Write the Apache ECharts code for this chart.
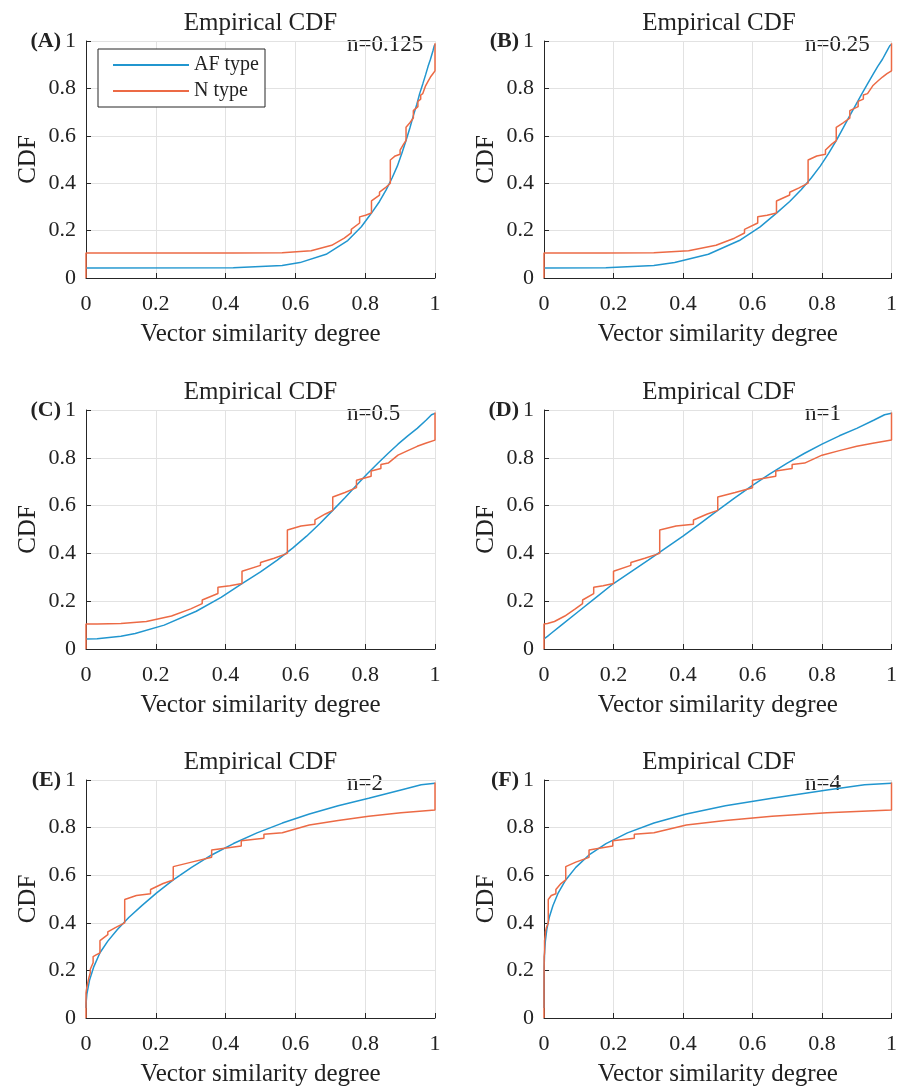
<!DOCTYPE html>
<html lang="en">
<head>
<meta charset="utf-8" />
<script src="https://cdn.jsdelivr.net/npm/echarts@6/dist/echarts.min.js"></script>
<style>
  body { margin: 0; background: #ffffff; }
  #main { width: 900px; height: 1088px; }
</style>
</head>
<body>
<div id="main"></div>
<script>
// panel labels
var panelLetters = ['(A)', '(B)', '(C)', '(D)', '(E)', '(F)'];
var nLabels = ['n=0.125', 'n=0.25', 'n=0.5', 'n=1', 'n=2', 'n=4'];
var seriesNames = ['AF type', 'N type'];

// AF type: CDF levels (shared) and x positions read in each panel
var afCdf = [0.042, 0.043, 0.053, 0.065, 0.100, 0.158, 0.216, 0.274, 0.323, 0.372, 0.422, 0.472, 0.526,
             0.580, 0.633, 0.685, 0.733, 0.778, 0.819, 0.857, 0.892, 0.923, 0.958, 0.980, 0.986];
var afX_A = [0, 0.422, 0.562, 0.613, 0.688, 0.750, 0.789, 0.818, 0.841, 0.860, 0.877, 0.892, 0.905,
             0.917, 0.928, 0.938, 0.948, 0.956, 0.965, 0.973, 0.980, 0.987, 0.994, 0.998, 1];
var afX_B = [0, 0.178, 0.316, 0.376, 0.473, 0.562, 0.622, 0.669, 0.707, 0.740, 0.769, 0.795, 0.819,
             0.841, 0.861, 0.880, 0.898, 0.915, 0.931, 0.946, 0.960, 0.974, 0.987, 0.995, 1];
var afX_C = [0, 0.032, 0.100, 0.141, 0.224, 0.316, 0.387, 0.447, 0.500, 0.548, 0.592, 0.632, 0.671,
             0.707, 0.742, 0.775, 0.806, 0.837, 0.866, 0.894, 0.922, 0.949, 0.975, 0.990, 1];
var afX_D = [0, 0.001, 0.01, 0.02, 0.05, 0.1, 0.15, 0.2, 0.25, 0.3, 0.35, 0.4, 0.45,
             0.5, 0.55, 0.6, 0.65, 0.7, 0.75, 0.8, 0.85, 0.9, 0.95, 0.98, 1];
var afX_E = [0, 0, 0.0001, 0.0004, 0.0025, 0.010, 0.0225, 0.040, 0.0625, 0.090, 0.1225, 0.160, 0.2025,
             0.250, 0.3025, 0.360, 0.4225, 0.490, 0.5625, 0.640, 0.7225, 0.810, 0.9025, 0.9604, 1];
var afX_F = [0, 0, 0, 0, 0, 0.0001, 0.0005, 0.0016, 0.0039, 0.0081, 0.015, 0.0256, 0.041,
             0.0625, 0.0915, 0.1296, 0.1785, 0.2401, 0.3164, 0.4096, 0.522, 0.6561, 0.8145, 0.9224, 1];

// N type: step CDF levels (shared) and x positions read in each panel
var nCdf = [0, 0.105, 0.105, 0.107, 0.115, 0.138, 0.168, 0.19, 0.205, 0.232, 0.258, 0.265, 0.274, 0.325,
            0.35, 0.362, 0.38, 0.40, 0.498, 0.515, 0.522, 0.54, 0.565, 0.58, 0.636, 0.655, 0.675, 0.706,
            0.723, 0.745, 0.755, 0.772, 0.778, 0.785, 0.811, 0.83, 0.848, 0.862, 0.874, 0.99];
var nX_A = [0, 0, 0.422, 0.562, 0.645, 0.704, 0.740, 0.760, 0.760, 0.784, 0.784, 0.801, 0.818, 0.818,
            0.841, 0.841, 0.857, 0.872, 0.872, 0.886, 0.900, 0.900, 0.910, 0.917, 0.917, 0.928, 0.938, 0.938,
            0.951, 0.951, 0.959, 0.959, 0.965, 0.965, 0.973, 0.980, 0.987, 0.994, 1, 1];
var nX_B = [0, 0, 0.178, 0.316, 0.416, 0.495, 0.548, 0.577, 0.577, 0.615, 0.615, 0.642, 0.669, 0.669,
            0.707, 0.707, 0.734, 0.760, 0.760, 0.785, 0.810, 0.810, 0.828, 0.841, 0.841, 0.861, 0.880, 0.880,
            0.904, 0.904, 0.919, 0.919, 0.931, 0.931, 0.946, 0.960, 0.974, 0.987, 1, 1];
var nX_C = [0, 0, 0.032, 0.100, 0.173, 0.245, 0.300, 0.333, 0.333, 0.378, 0.378, 0.412, 0.447, 0.447,
            0.500, 0.500, 0.539, 0.577, 0.577, 0.616, 0.656, 0.656, 0.686, 0.707, 0.707, 0.742, 0.775, 0.775,
            0.817, 0.817, 0.845, 0.845, 0.866, 0.866, 0.894, 0.922, 0.949, 0.975, 1, 1];
var nX_D = [0, 0, 0.001, 0.01, 0.03, 0.06, 0.09, 0.111, 0.111, 0.143, 0.143, 0.17, 0.2, 0.2,
            0.25, 0.25, 0.29, 0.333, 0.333, 0.38, 0.43, 0.43, 0.47, 0.5, 0.5, 0.55, 0.6, 0.6,
            0.667, 0.667, 0.714, 0.714, 0.75, 0.75, 0.8, 0.85, 0.9, 0.95, 1, 1];
var nX_E = [0, 0, 0, 0.0001, 0.0009, 0.0036, 0.0081, 0.0123, 0.0123, 0.0204, 0.0204, 0.0289, 0.04, 0.04,
            0.0625, 0.0625, 0.0841, 0.1109, 0.1109, 0.1444, 0.1849, 0.1849, 0.2209, 0.25, 0.25, 0.3025, 0.36, 0.36,
            0.4449, 0.4449, 0.5098, 0.5098, 0.5625, 0.5625, 0.64, 0.7225, 0.81, 0.9025, 1, 1];
var nX_F = [0, 0, 0, 0, 0, 0, 0.0001, 0.0002, 0.0002, 0.0004, 0.0004, 0.0008, 0.0016, 0.0016,
            0.0039, 0.0039, 0.0071, 0.0123, 0.0123, 0.0209, 0.0342, 0.0342, 0.0488, 0.0625, 0.0625, 0.0915, 0.1296, 0.1296,
            0.1979, 0.1979, 0.2599, 0.2599, 0.3164, 0.3164, 0.4096, 0.522, 0.6561, 0.8145, 1, 1];

var afXs = [afX_A, afX_B, afX_C, afX_D, afX_E, afX_F];
var nXs = [nX_A, nX_B, nX_C, nX_D, nX_E, nX_F];

var FONT = '"Liberation Serif", "Times New Roman", serif';
var TXT = '#222222';
var AXIS = '#262626';
var BLUE = '#2196cf';
var ORANGE = '#ec6a45';

function pairs(xs, ys) {
  return xs.map(function (x, k) { return [x, ys[k]]; });
}

var boxes = [
  { left: 86, top: 41, width: 349, height: 237 },
  { left: 544, top: 41, width: 350, height: 237 },
  { left: 86, top: 410, width: 349, height: 239 },
  { left: 544, top: 410, width: 350, height: 239 },
  { left: 86, top: 780, width: 349, height: 239 },
  { left: 544, top: 780, width: 350, height: 239 }
];

var grids = [], xAxes = [], yAxes = [], series = [], graphics = [];

boxes.forEach(function (b, i) {
  grids.push({ left: b.left, top: b.top, width: b.width, height: b.height, containLabel: false });
  var common = {
    gridIndex: i, type: 'value', min: 0, max: 1, interval: 0.2,
    nameLocation: 'middle',
    nameTextStyle: { fontFamily: FONT, fontSize: 25, color: TXT },
    axisLine: { show: true, lineStyle: { color: AXIS, width: 1 } },
    axisTick: { show: true, inside: true, length: 5, lineStyle: { color: AXIS } },
    splitLine: { show: true, lineStyle: { color: '#e2e2e2', width: 1 } }
  };
  xAxes.push(Object.assign({}, common, {
    name: 'Vector similarity degree', nameGap: 44,
    axisLabel: { fontFamily: FONT, fontSize: 22, color: TXT, margin: 15 }
  }));
  yAxes.push(Object.assign({}, common, {
    name: 'CDF', nameGap: 45, nameRotate: 90,
    axisLabel: { fontFamily: FONT, fontSize: 22, color: TXT, margin: 10 }
  }));
  series.push({
    name: seriesNames[0], type: 'line', xAxisIndex: i, yAxisIndex: i,
    data: pairs(afXs[i], afCdf), symbol: 'none', showSymbol: false,
    lineStyle: { color: BLUE, width: 1.5 }, itemStyle: { color: BLUE }, z: 2
  });
  series.push({
    name: seriesNames[1], type: 'line', xAxisIndex: i, yAxisIndex: i,
    data: pairs(nXs[i], nCdf), symbol: 'none', showSymbol: false,
    lineStyle: { color: ORANGE, width: 1.5 }, itemStyle: { color: ORANGE }, z: 3
  });

  graphics.push({
    type: 'text', silent: true,
    style: { text: 'Empirical CDF', x: b.left + b.width / 2, y: b.top - 18,
             align: 'center', verticalAlign: 'middle', fontFamily: FONT, fontSize: 25, fill: TXT }
  });
  graphics.push({
    type: 'text', silent: true,
    style: { text: nLabels[i], x: b.left + 261, y: b.top + 4,
             align: 'left', verticalAlign: 'middle', fontFamily: FONT, fontSize: 23, fill: TXT }
  });
  graphics.push({
    type: 'text', silent: true,
    style: { text: panelLetters[i], x: b.left - 25, y: b.top,
             align: 'right', verticalAlign: 'middle', fontFamily: FONT, fontSize: 22, fontWeight: 'bold', fill: TXT }
  });
});

var chart = echarts.init(document.getElementById('main'));
chart.setOption({
  animation: false,
  backgroundColor: '#ffffff',
  grid: grids,
  xAxis: xAxes,
  yAxis: yAxes,
  legend: {
    data: seriesNames.map(function (s) { return { name: s, icon: 'rect' }; }),
    orient: 'vertical',
    left: 98, top: 49,
    itemWidth: 76, itemHeight: 2, itemGap: 6,
    padding: [6, 6, 6, 15],
    borderColor: AXIS, borderWidth: 1, backgroundColor: '#ffffff',
    textStyle: { fontFamily: FONT, fontSize: 20, color: TXT }
  },
  series: series,
  graphic: graphics
});
</script>
</body>
</html>
